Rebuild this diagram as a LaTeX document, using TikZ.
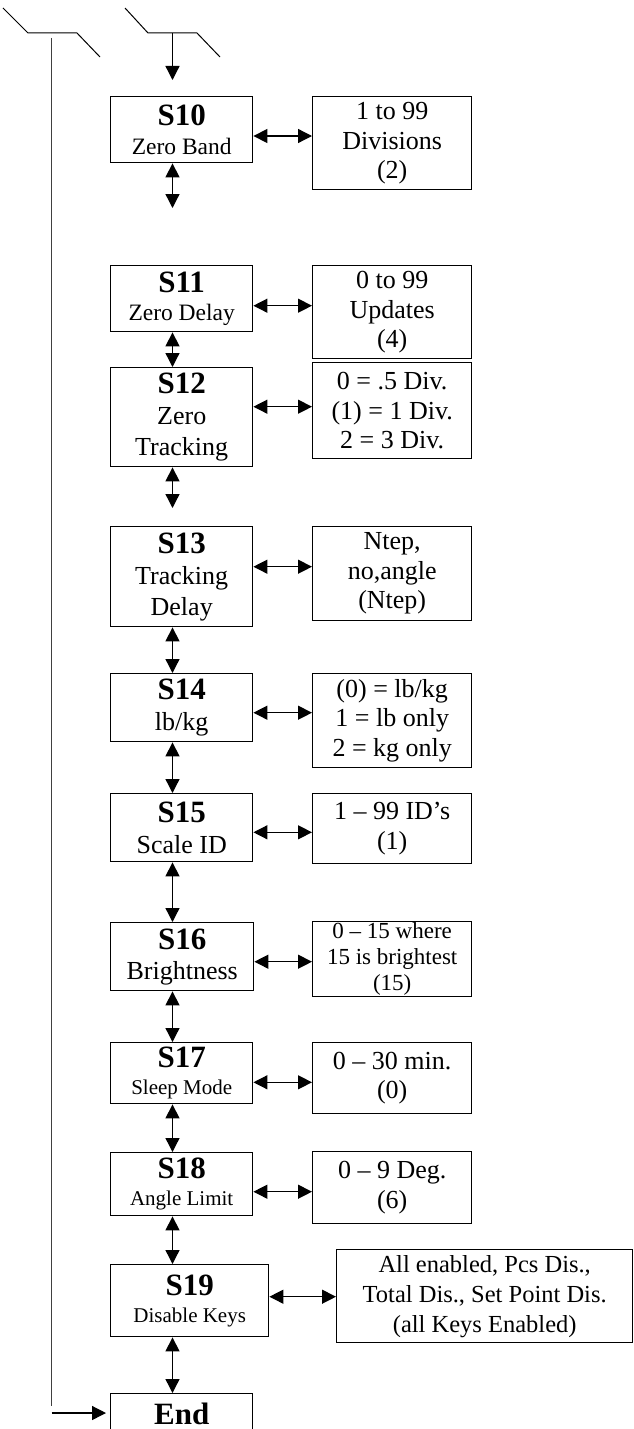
\documentclass[tikz,border=0pt]{standalone}
\usepackage{fontspec}
\setmainfont{Liberation Serif}
\usepackage{tikz}
\usetikzlibrary{arrows.meta}

\newcommand{\menutag}[1]{{\fontsize{31}{31}\selectfont\bfseries #1}}

\begin{document}
\begin{tikzpicture}[x=1pt, y=-1pt,
	sbox/.style={draw, line width=1.4pt, anchor=north west, inner sep=0pt, minimum width=142, align=center, font=\fontsize{26}{31}\selectfont},
	valbox/.style={draw, line width=1.4pt, anchor=north west, inner sep=0pt, minimum width=159, align=center, font=\fontsize{26}{29.5}\selectfont},
	link/.style={{Triangle[length=14pt,width=14pt]}-{Triangle[length=14pt,width=14pt]}, line width=1.3pt},
	feed/.style={-{Triangle[length=14pt,width=14pt]}, line width=1.3pt}]
	\useasboundingbox (0,0) rectangle (634,1429);
	\draw[line width=1pt] (3,8) -- (28,33) -- (77,33) -- (100,57);
	\draw[line width=1pt] (125,8) -- (148,33) -- (197,33) -- (220,57);

	\node[sbox, minimum height=66, font=\fontsize{23.5}{29}\selectfont] (s10) at (110,96) {\menutag{S10}\\Zero Band};
	\node[sbox, minimum height=66, font=\fontsize{23.5}{28}\selectfont] (s11) at (110,265) {\menutag{S11}\\Zero Delay};
	\node[sbox, minimum height=99] (s12) at (110,367) {\menutag{S12}\\Zero\\Tracking};
	\node[sbox, minimum height=100] (s13) at (110,526) {\menutag{S13}\\Tracking\\Delay};
	\node[sbox, minimum height=68] (s14) at (110,673) {\menutag{S14}\\lb/kg};
	\node[sbox, minimum height=68] (s15) at (110,793) {\menutag{S15}\\Scale ID};
	\node[sbox, minimum height=68, minimum width=143, font=\fontsize{26}{30}\selectfont] (s16) at (110,922) {\menutag{S16}\\Brightness};
	\node[sbox, minimum height=61, font=\fontsize{21}{26.6}\selectfont] (s17) at (110,1042) {\menutag{S17}\\Sleep Mode};
	\node[sbox, minimum height=63, font=\fontsize{21}{26.6}\selectfont] (s18) at (110,1152) {\menutag{S18}\\Angle Limit};
	\node[sbox, minimum height=72, minimum width=158, font=\fontsize{21}{26.6}\selectfont] (s19) at (110,1264) {\menutag{S19}\\Disable Keys};
	\node[sbox, minimum height=40] (sEnd) at (110,1393) {\menutag{End}};

	\node[valbox, minimum height=93] (v10) at (312,96) {1 to 99\\Divisions\\(2)};
	\node[valbox, minimum height=93] (v11) at (312,265) {0 to 99\\Updates\\(4)};
	\node[valbox, minimum height=96] (v12) at (312,362) {0 = .5 Div.\\(1) = 1 Div.\\2 = 3 Div.};
	\node[valbox, minimum height=94] (v13) at (312,526) {Ntep,\\no,angle\\(Ntep)};
	\node[valbox, minimum height=94] (v14) at (312,673) {(0) = lb/kg\\1 = lb only\\2 = kg only};
	\node[valbox, minimum height=70] (v15) at (312,793) {1 – 99 ID’s\\(1)};
	\node[valbox, minimum height=75, font=\fontsize{23}{26}\selectfont] (v16) at (312,921) {0 – 15 where\\15 is brightest\\(15)};
	\node[valbox, minimum height=71] (v17) at (312,1042) {0 – 30 min.\\(0)};
	\node[valbox, minimum height=72] (v18) at (312,1151) {0 – 9 Deg.\\(6)};
	\node[valbox, minimum height=93, minimum width=296, font=\fontsize{24.5}{30}\selectfont] (v19) at (336,1249) {All enabled, Pcs Dis.,\\Total Dis., Set Point Dis.\\(all Keys Enabled)};

	\coordinate (col) at (172.5,0);
	\coordinate (forkB) at (172.5,33);
	\coordinate (gap0) at (172.5,80);
	\coordinate (gap1) at (172.5,208);
	\coordinate (gap2) at (172.5,508);
	\coordinate (ret1) at (51.7,38);
	\coordinate (ret2) at (51.7,1406);
	\coordinate (ret3) at (51.7,1413);

	\draw[feed] (forkB) -- (gap0);
	\draw[link] (s10.south -| col) -- (gap1);
	\draw[link] (s12.south -| col) -- (gap2);
	\foreach \a/\b in {11/12,13/14,14/15,15/16,16/17,17/18,18/19,19/End}
		\draw[link] (s\a.south -| col) -- (s\b.north -| col);
	\foreach \n/\y in {10/136,11/305.7,12/406.7,13/566.7,14/712.7,15/832.3,16/961.7,17/1082.3,18/1191.7,19/1296.7}
		\draw[link] (s\n.east |- 0,\y) -- (v\n.west |- 0,\y);

	\draw[line width=1pt, black!75] (ret1) -- (ret2);
	\draw[feed, shorten >=4pt] (ret3) -- (sEnd.west |- ret3);
\end{tikzpicture}
\end{document}
